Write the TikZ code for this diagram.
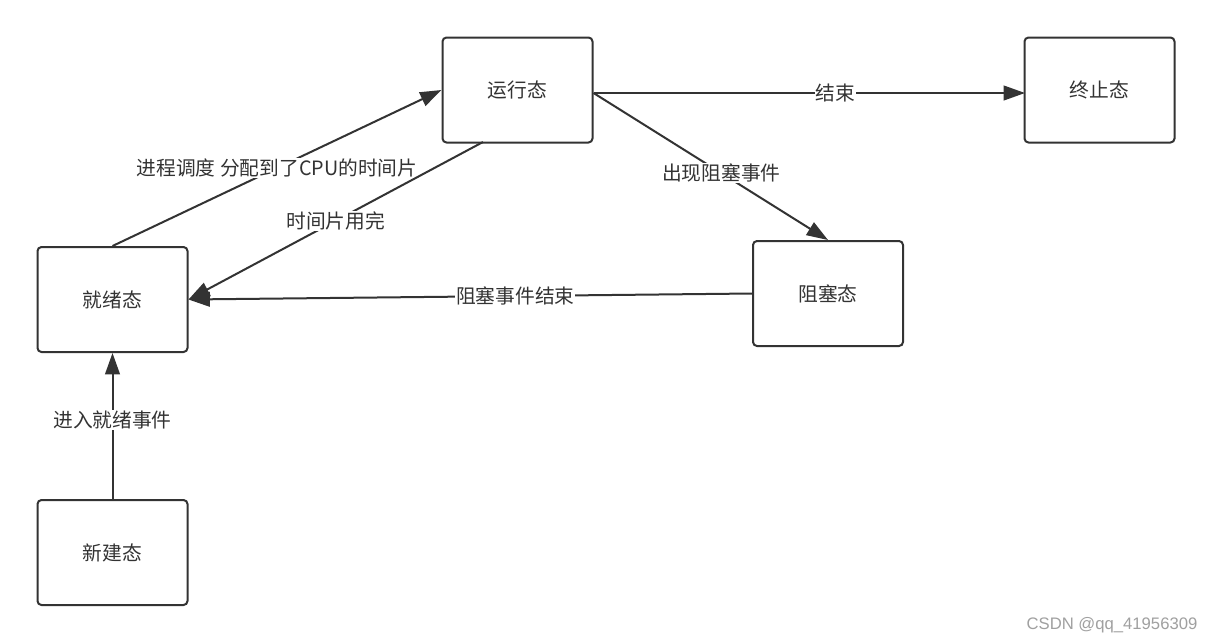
\documentclass[tikz,border=0pt]{standalone}
\usepackage{fontspec}
\setmainfont{Noto Sans CJK SC}
\newfontfamily\wmfont{Liberation Sans}
\usetikzlibrary{arrows.meta,calc}
\definecolor{ink}{HTML}{333333}
\definecolor{wm}{HTML}{A0A0A0}
\begin{document}
\begin{tikzpicture}[x=0.75pt,y=-0.75pt,
  state/.style={draw=ink,line width=1.5pt,rounded corners=3pt,fill=white,
    minimum width=112.5pt,minimum height=78.75pt,inner sep=0pt,
    font=\fontsize{14.8}{17}\selectfont,text=ink},
  conn/.style={draw=ink,line width=1.5pt,
    -{Triangle[length=16pt,width=11pt]}},
  lbl/.style={fill=white,inner sep=0.5pt,text=ink,
    font=\fontsize{14.8}{17}\selectfont}]
\useasboundingbox[fill=white] (0,0) rectangle (1212,643);
\node[state] (yx) at (517.5,90) {运行态};
\node[state] (zz) at (1099.5,90) {终止态};
\node[state] (jx) at (112.5,299.5) {就绪态};
\node[state] (zs) at (828,293.5) {阻塞态};
\node[state] (xj) at (112.5,552.5) {新建态};
\coordinate (yxr) at (593.5,93);
\coordinate (yxb) at (483,142);
\coordinate (zzl) at (1025,93);
\draw[conn] (jx.north) -- node[lbl,pos=0.5]{进程调度 分配到了CPU的时间片} (yx.west);
\draw[conn] (yxb) -- node[lbl,pos=0.5]{时间片用完} (jx.east);
\draw[conn] (yxr) -- node[lbl,pos=0.56]{结束} (zzl);
\draw[conn] (yxr) -- node[lbl,pos=0.545]{出现阻塞事件} (zs.north);
\draw[conn] (zs.west) -- node[lbl,pos=0.42]{阻塞事件结束} (jx.east);
\draw[conn] (xj.north) -- node[lbl,pos=0.54]{进入就绪事件} (jx.south);
\node[text=wm,font=\wmfont\fontsize{12.5}{14}\selectfont] (wmk) at (1112,625) {CSDN @qq\_41956309};
\end{tikzpicture}
\end{document}
